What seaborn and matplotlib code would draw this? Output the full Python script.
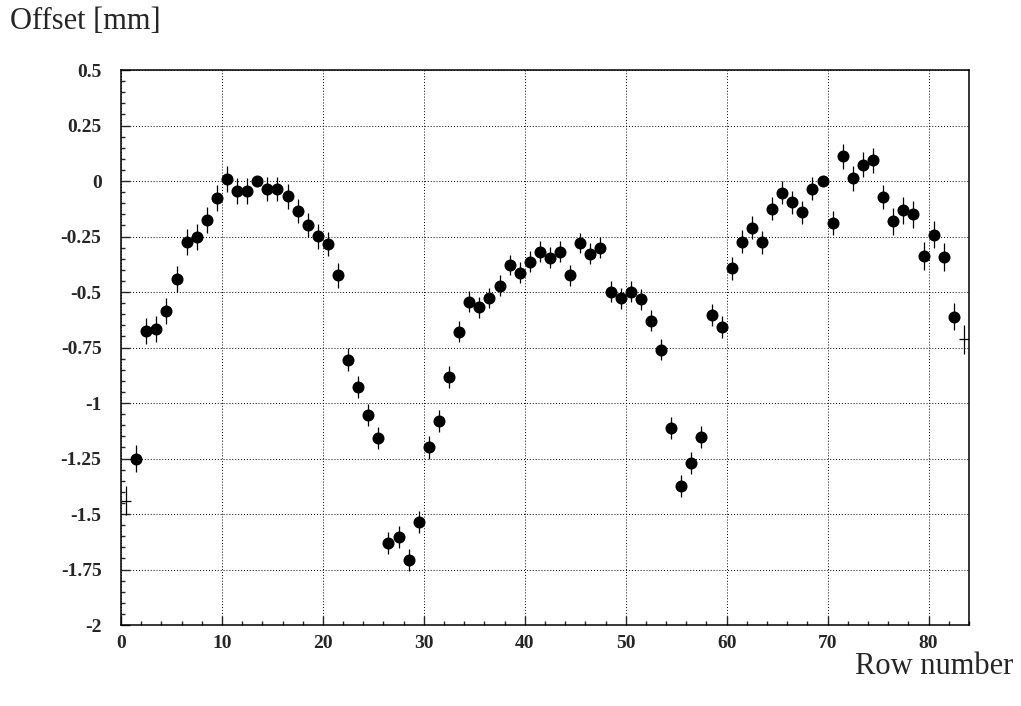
import numpy as np
import pandas as pd
import matplotlib
matplotlib.use("Agg")
import matplotlib.pyplot as plt
from matplotlib.ticker import MultipleLocator, FuncFormatter
import seaborn as sns

# row centres 0.5 ... 83.5
rows = np.arange(84) + 0.5

offset = [-1.44, -1.25, -0.676, -0.665, -0.586, -0.440, -0.276, -0.253, -0.175, -0.075,
          0.010, -0.044, -0.044, 0.000, -0.036, -0.036, -0.069, -0.136, -0.198, -0.249,
          -0.283, -0.425, -0.804, -0.927, -1.054, -1.158, -1.631, -1.605, -1.706, -1.537,
          -1.200, -1.081, -0.884, -0.679, -0.544, -0.569, -0.527, -0.472, -0.378, -0.413,
          -0.364, -0.319, -0.346, -0.318, -0.425, -0.279, -0.327, -0.300, -0.499, -0.529,
          -0.499, -0.533, -0.629, -0.759, -1.114, -1.372, -1.271, -1.152, -0.605, -0.656,
          -0.392, -0.274, -0.211, -0.276, -0.124, -0.053, -0.096, -0.141, -0.035, 0.000,
          -0.189, 0.111, 0.013, 0.073, 0.094, -0.072, -0.181, -0.132, -0.150, -0.337,
          -0.241, -0.343, -0.611, -0.713]

err = [0.065, 0.060, 0.058, 0.058, 0.058, 0.058, 0.058, 0.058, 0.058, 0.058,
       0.058, 0.058, 0.058, 0.000, 0.055, 0.055, 0.055, 0.055, 0.055, 0.055,
       0.055, 0.055, 0.050, 0.050, 0.050, 0.050, 0.050, 0.050, 0.050, 0.050,
       0.050, 0.050, 0.050, 0.047, 0.047, 0.047, 0.047, 0.047, 0.047, 0.047,
       0.047, 0.047, 0.047, 0.047, 0.047, 0.047, 0.047, 0.047, 0.047, 0.047,
       0.047, 0.047, 0.047, 0.047, 0.050, 0.050, 0.050, 0.050, 0.050, 0.050,
       0.052, 0.052, 0.052, 0.052, 0.052, 0.052, 0.052, 0.052, 0.052, 0.000,
       0.056, 0.056, 0.056, 0.056, 0.056, 0.056, 0.060, 0.060, 0.060, 0.063,
       0.061, 0.063, 0.062, 0.066]

# first and last rows are drawn as plain crosses (no marker)
df = pd.DataFrame({"row": rows, "offset": offset, "err": err})
edge = df["row"].isin([rows[0], rows[-1]])
inner = df[~edge]
outer = df[edge]

sns.set_style("ticks")
plt.rcParams["font.family"] = ["Liberation Serif", "DejaVu Serif"]

fig, ax = plt.subplots(figsize=(10.21, 7.06), dpi=100)
fig.subplots_adjust(left=0.1185, right=0.949, bottom=0.1147, top=0.9008)

ax.errorbar(inner["row"], inner["offset"], yerr=inner["err"], fmt="none",
            ecolor="black", elinewidth=0.9, capsize=0, zorder=2)
ax.errorbar(outer["row"], outer["offset"], yerr=outer["err"], xerr=0.5, fmt="none",
            ecolor="black", elinewidth=0.9, capsize=0, zorder=2)
sns.scatterplot(data=inner, x="row", y="offset", color="black", s=75,
                edgecolor="black", linewidth=0, ax=ax, zorder=3)

ax.set_xlim(0, 84)
ax.set_ylim(-2, 0.5)
ax.set_xlabel("")
ax.set_ylabel("")

ax.xaxis.set_major_locator(MultipleLocator(10))
ax.xaxis.set_minor_locator(MultipleLocator(2))
ax.yaxis.set_major_locator(MultipleLocator(0.25))
ax.yaxis.set_minor_locator(MultipleLocator(0.05))
ax.yaxis.set_major_formatter(FuncFormatter(lambda v, p: f"{v:g}"))

ax.grid(True, which="major", color="black", linestyle=(0, (1, 2)), linewidth=0.7)
ax.tick_params(which="both", direction="in", top=False, right=False, width=1.0)
ax.tick_params(which="major", length=6.5)
ax.tick_params(which="minor", length=3.2)
ax.tick_params(axis="y", which="major", pad=14)
ax.tick_params(axis="x", which="major", pad=7)
for lab in ax.get_xticklabels() + ax.get_yticklabels():
    lab.set_fontweight("bold")
    lab.set_fontsize(14)
for sp in ax.spines.values():
    sp.set_visible(True)
    sp.set_linewidth(1.1)
    sp.set_color("black")

fig.text(10 / 1021, 1 - 29 / 706, "Offset [mm]", fontsize=22, ha="left", va="baseline")
fig.text(1013 / 1021, 1 - 674 / 706, "Row number", fontsize=22, ha="right", va="baseline")

fig.savefig("out.png", dpi=100)
